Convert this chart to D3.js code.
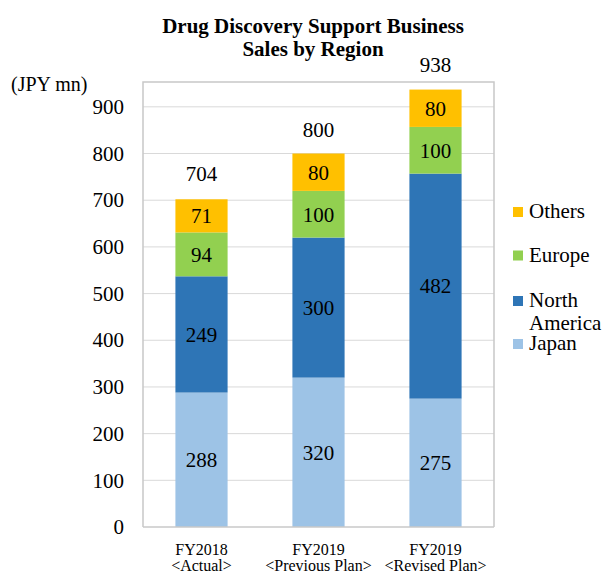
<!DOCTYPE html>
<html>
<head>
<meta charset="utf-8">
<script src="https://cdn.jsdelivr.net/npm/d3@7"></script>
<style>
  body { margin: 0; background: #fff; }
  svg text { font-family: "Liberation Serif", "Times New Roman", serif !important; }
</style>
</head>
<body>
<div id="chart"></div>
<script>
(function () {

    // data
    const categories = ["FY2018|<Actual>", "FY2019|<Previous Plan>", "FY2019|<Revised Plan>"];
    const series = ["Japan", "North America", "Europe", "Others"];
    const japan = [288, 320, 275];
    const northAmerica = [249, 300, 482];
    const europe = [94, 100, 100];
    const others = [71, 80, 80];
    const totals = [704, 800, 938];
    const yTicks = [0, 100, 200, 300, 400, 500, 600, 700, 800, 900];
    const colors = ["#9DC3E6", "#2E75B6", "#92D050", "#FFC000"];

    const rows = categories.map((c, i) => ({
        cat: c,
        "Japan": japan[i],
        "North America": northAmerica[i],
        "Europe": europe[i],
        "Others": others[i]
    }));

    const svg = d3.select('#chart')
        .append('svg')
        .attr('width', 604)
        .attr('height', 573);

    const left = 143, right = 494, top = 82, bottom = 527;

    const x = d3.scaleBand()
        .domain(categories)
        .range([left, right])
        .paddingInner(0.554)
        .paddingOuter(0.277);

    const y = d3.scaleLinear()
        .domain([0, 950])
        .range([bottom, top + 1.5]);

    // title
    svg.append("text")
        .attr("x", 313).attr("y", 33)
        .attr("text-anchor", "middle")
        .attr("font-size", 21).attr("font-weight", "bold")
        .text("Drug Discovery Support Business");
    svg.append("text")
        .attr("x", 313).attr("y", 56)
        .attr("text-anchor", "middle")
        .attr("font-size", 21).attr("font-weight", "bold")
        .text("Sales by Region");

    // unit
    svg.append("text")
        .attr("x", 11).attr("y", 91)
        .attr("font-size", 20)
        .text("(JPY mn)");

    // gridlines
    svg.append("g")
        .selectAll("line")
        .data(yTicks.slice(1))
        .join("line")
        .attr("x1", left).attr("x2", right)
        .attr("y1", d => y(d)).attr("y2", d => y(d))
        .attr("stroke", "#d9d9d9").attr("stroke-width", 1);

    // frame (top, left, right)
    svg.append("path")
        .attr("d", `M${left},${bottom}V${top}H${right}V${bottom}`)
        .attr("fill", "none")
        .attr("stroke", "#c8c8c8").attr("stroke-width", 1.5);

    // y axis labels
    const yAxis = d3.axisLeft(y).tickValues(yTicks).tickSize(0).tickPadding(19);
    const gy = svg.append("g")
        .attr("transform", `translate(${left},0)`)
        .call(yAxis);
    gy.select(".domain").remove();
    gy.selectAll("text")
        .attr("font-size", 21)
        .attr("fill", "#000");

    // stacked bars
    const stack = d3.stack().keys(series);
    const stacked = stack(rows);

    const layers = svg.append("g")
        .selectAll("g")
        .data(stacked)
        .join("g")
        .attr("fill", (d, i) => colors[i]);

    layers.selectAll("rect")
        .data(d => d)
        .join("rect")
        .attr("x", d => x(d.data.cat))
        .attr("width", x.bandwidth())
        .attr("y", d => y(d[1]))
        .attr("height", d => y(d[0]) - y(d[1]));

    // segment labels
    layers.selectAll("text")
        .data(d => d.map(v => ({ v: v, val: v[1] - v[0] })))
        .join("text")
        .attr("x", d => x(d.v.data.cat) + x.bandwidth() / 2)
        .attr("y", d => y((d.v[0] + d.v[1]) / 2))
        .attr("dy", "0.35em")
        .attr("text-anchor", "middle")
        .attr("font-size", 21)
        .attr("fill", "#000")
        .text(d => d.val);

    // x axis line
    svg.append("line")
        .attr("x1", left).attr("x2", right)
        .attr("y1", bottom).attr("y2", bottom)
        .attr("stroke", "#c8c8c8").attr("stroke-width", 1.5);

    // totals
    svg.append("g")
        .selectAll("text")
        .data(totals)
        .join("text")
        .attr("x", (d, i) => x(categories[i]) + x.bandwidth() / 2)
        .attr("y", d => y(d) - 17)
        .attr("text-anchor", "middle")
        .attr("font-size", 21)
        .text(d => d);

    // category labels
    const xl = svg.append("g")
        .selectAll("text")
        .data(categories)
        .join("text")
        .attr("x", d => x(d) + x.bandwidth() / 2)
        .attr("y", 555)
        .attr("text-anchor", "middle")
        .attr("font-size", 16);
    xl.append("tspan")
        .attr("x", d => x(d) + x.bandwidth() / 2)
        .text(d => d.split("|")[0]);
    xl.append("tspan")
        .attr("x", d => x(d) + x.bandwidth() / 2)
        .attr("dy", 16)
        .text(d => d.split("|")[1]);

    // legend
    const legendItems = [
        { name: "Others", color: colors[3], y: 212 },
        { name: "Europe", color: colors[2], y: 255.5 },
        { name: "North|America", color: colors[1], y: 301 },
        { name: "Japan", color: colors[0], y: 344 }
    ];
    const lg = svg.append("g")
        .selectAll("g")
        .data(legendItems)
        .join("g");
    lg.append("rect")
        .attr("x", 513).attr("y", d => d.y - 5)
        .attr("width", 10).attr("height", 10)
        .attr("fill", d => d.color);
    const lt = lg.append("text")
        .attr("x", 529).attr("y", d => d.y + 6)
        .attr("font-size", 21);
    lt.selectAll("tspan")
        .data(d => d.name.split("|"))
        .join("tspan")
        .attr("x", 529)
        .attr("dy", (d, i) => i === 0 ? 0 : 23)
        .text(d => d);
})();
</script>
</body>
</html>
